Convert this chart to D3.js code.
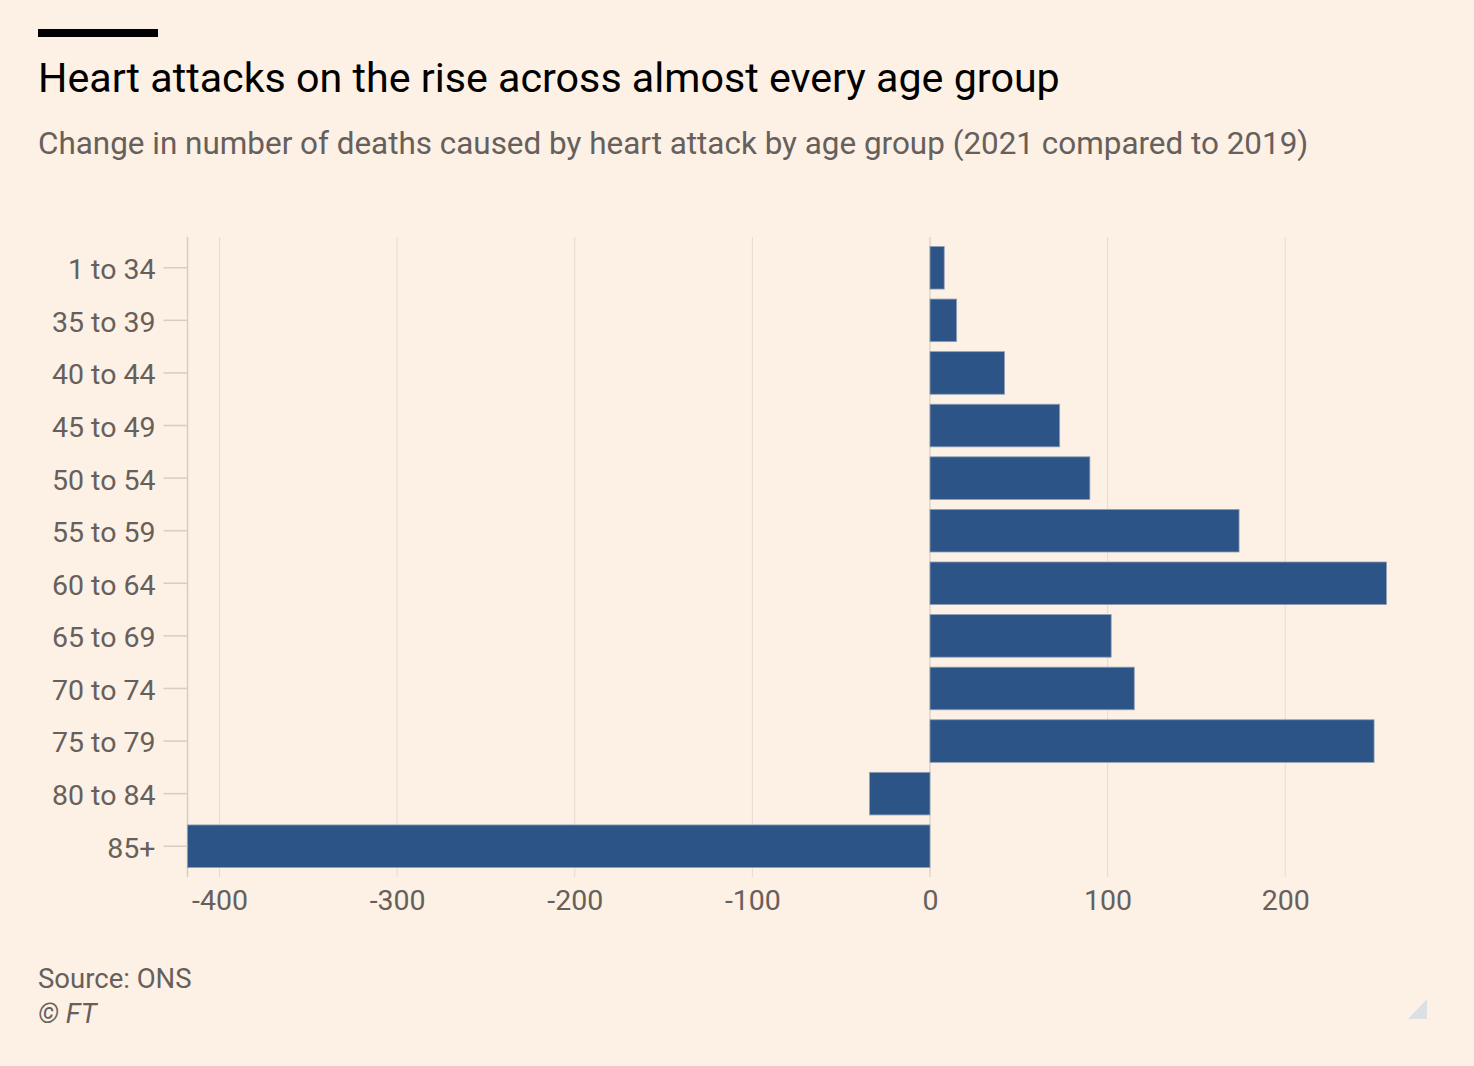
<!DOCTYPE html>
<html>
<head>
<meta charset="utf-8">
<script src="https://cdn.jsdelivr.net/npm/d3@7"></script>
<style>
  html, body { margin: 0; padding: 0; background: #fdf0e5; }
  svg { display: block; font-family: Roboto, "Noto Sans", sans-serif; }
</style>
</head>
<body>
<svg id="chart" width="1474" height="1066"></svg>
<script>
const categories = ["1 to 34", "35 to 39", "40 to 44", "45 to 49", "50 to 54", "55 to 59",
                    "60 to 64", "65 to 69", "70 to 74", "75 to 79", "80 to 84", "85+"];
const values = [8, 15, 42, 73, 90, 174, 257, 102, 115, 250, -34, -418];
const xTicks = [-400, -300, -200, -100, 0, 100, 200];
const titleText = "Heart attacks on the rise across almost every age group";
const subtitleText = "Change in number of deaths caused by heart attack by age group (2021 compared to 2019)";
const sourceText = "Source: ONS";
const creditText = "© FT";

const svg = d3.select("#chart");
const W = 1474, H = 1066;
svg.append("rect").attr("width", W).attr("height", H).attr("fill", "#fdf0e5");

// top rule
svg.append("rect").attr("x", 38).attr("y", 29).attr("width", 120).attr("height", 8).attr("fill", "#000");

function fitText(sel, target) {
  const w = sel.node().getComputedTextLength();
  const fs = parseFloat(sel.attr("font-size"));
  sel.attr("font-size", fs * target / w);
}

const title = svg.append("text").attr("x", 38).attr("y", 92)
  .attr("font-size", 40).attr("fill", "#000").text(titleText);
fitText(title, 1022);

const sub = svg.append("text").attr("x", 38).attr("y", 154)
  .attr("font-size", 30).attr("fill", "#66605c").text(subtitleText);
fitText(sub, 1271);

const margin = { left: 187.5, right: 1386.5, top: 237, bottom: 877 };

const x = d3.scaleLinear().domain([d3.min(values), d3.max(values)])
  .range([margin.left, margin.right]);
const y = d3.scaleBand().domain(categories).range([margin.top, margin.bottom])
  .paddingInner(0.19).paddingOuter(0.18);

// gridlines
svg.append("g").selectAll("line").data(xTicks).join("line")
  .attr("x1", d => x(d)).attr("x2", d => x(d))
  .attr("y1", margin.top).attr("y2", margin.bottom)
  .attr("stroke", d => d === 0 ? "#cfc6bd" : "#e4dcd4").attr("stroke-width", 1);

// y axis line
svg.append("line").attr("x1", margin.left).attr("x2", margin.left)
  .attr("y1", margin.top).attr("y2", margin.bottom)
  .attr("stroke", "#d6cdc4").attr("stroke-width", 1.5);

// bars
svg.append("g").selectAll("rect").data(values).join("rect")
  .attr("x", d => x(Math.min(0, d)))
  .attr("width", d => Math.abs(x(d) - x(0)))
  .attr("y", (d, i) => y(categories[i]))
  .attr("height", y.bandwidth())
  .attr("fill", "#2d5486")
  .attr("stroke", "#8fa0b6").attr("stroke-width", 0.8);

// y axis
const yAxis = d3.axisLeft(y).tickSize(24).tickPadding(8);
const gy = svg.append("g").attr("transform", `translate(${margin.left},0)`).call(yAxis);
gy.select(".domain").remove();
gy.selectAll(".tick line").attr("stroke", "#d6cdc4").attr("stroke-width", 1.5);
gy.selectAll(".tick text").attr("font-size", 28.5).attr("fill", "#66605c")
  .attr("font-family", "Roboto, sans-serif").attr("dy", "0.4em");

// x axis
const xAxis = d3.axisBottom(x).tickValues(xTicks).tickSize(0).tickPadding(13)
  .tickFormat(d => d < 0 ? "-" + Math.abs(d) : String(d));
const gx = svg.append("g").attr("transform", `translate(0,${margin.bottom})`).call(xAxis);
gx.select(".domain").remove();
gx.selectAll(".tick text").attr("font-size", 28.5).attr("fill", "#66605c")
  .attr("font-family", "Roboto, sans-serif");

// footer
svg.append("text").attr("x", 38).attr("y", 988).attr("font-size", 27.5)
  .attr("fill", "#66605c").text(sourceText);
svg.append("text").attr("x", 38).attr("y", 1023).attr("font-size", 27.5)
  .attr("font-style", "italic").attr("fill", "#66605c").text(creditText);

// corner mark
svg.append("path").attr("d", "M1408,1019 L1427,1019 L1427,999 Z").attr("fill", "#dcdfe3");
</script>
</body>
</html>
